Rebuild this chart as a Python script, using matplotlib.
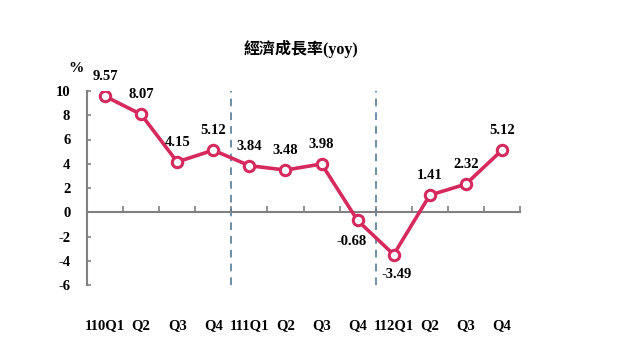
import matplotlib
matplotlib.use('Agg')
import matplotlib.pyplot as plt
import numpy as np

plt.rcParams['axes.unicode_minus'] = False

# quarters and yoy growth (%)
quarters = ['110Q1', 'Q2', 'Q3', 'Q4', '111Q1', 'Q2', 'Q3', 'Q4', '112Q1', 'Q2', 'Q3', 'Q4']
growth = [9.57, 8.07, 4.15, 5.12, 3.84, 3.48, 3.98, -0.68, -3.49, 1.41, 2.32, 5.12]
year_breaks = [3.5, 7.5]

line_color = '#d62a5e'
axis_color = '#808080'
num_font = 'Liberation Serif'

fig = plt.figure(figsize=(6.4, 3.6), dpi=100)
ax = fig.add_axes([87 / 640, 1 - 285 / 360, 433 / 640, 194 / 360])

x = np.arange(len(growth))
ax.plot(x, growth, color=line_color, lw=2.6, marker='o', ms=7.5,
        mfc='white', mec=line_color, mew=2.2, zorder=3)

# data labels
for xi, v in zip(x, growth):
    if v == -0.68:
        off = (-4, -15)
    elif v < 0:
        off = (2, -14)
    else:
        off = (0, 14)
    ax.annotate(f'{v:.2f}', (xi, v), textcoords='offset points', xytext=off,
                ha='center', va='center', fontsize=10.5, fontweight='bold',
                family=num_font)

# dashed year separators
for b in year_breaks:
    ax.plot([b, b], [-6, 10], color='#46708f', lw=1.1, ls=(0, (5, 4)), zorder=2)

ax.set_xlim(-0.5, len(growth) - 0.5)
ax.set_ylim(-6, 10)

ax.spines['top'].set_visible(False)
ax.spines['right'].set_visible(False)
ax.spines['bottom'].set_position(('data', 0))
for s in ['left', 'bottom']:
    ax.spines[s].set_color(axis_color)
    ax.spines[s].set_linewidth(1.5)

ax.set_yticks(range(-6, 11, 2))
ax.tick_params(axis='y', direction='in', length=3, color=axis_color, width=1.2, pad=12)
for lab in ax.get_yticklabels():
    lab.set_fontfamily(num_font)
    lab.set_fontweight('bold')
    lab.set_fontsize(10.5)

ax.set_xticks(x)
ax.set_xticklabels(quarters)
ax.tick_params(axis='x', which='major', length=0, pad=77)
ax.set_xticks(np.arange(-0.5, len(growth)), minor=True)
ax.tick_params(axis='x', which='minor', direction='in', length=4, color=axis_color, width=1.2)
for lab in ax.get_xticklabels():
    lab.set_fontfamily(num_font)
    lab.set_fontweight('bold')
    lab.set_fontsize(10.5)

fig.text(0.47, 0.865, '經濟成長率(yoy)', ha='center', va='center', fontsize=11.5,
         fontweight='bold', family=[num_font, 'Noto Sans CJK TC'])
fig.text(76 / 640, 1 - 68 / 360, '%', ha='center', va='center', fontsize=11,
         fontweight='bold', family=num_font)

fig.savefig('out.png', dpi=100)
plt.close(fig)
